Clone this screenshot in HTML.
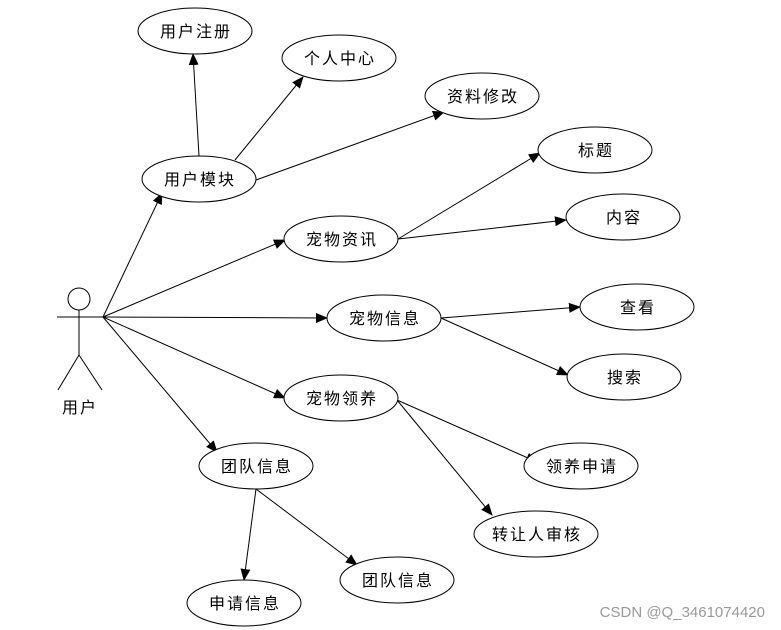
<!DOCTYPE html>
<html><head><meta charset="utf-8"><style>
html,body{margin:0;padding:0;background:#fff;}
svg{display:block;}
text{font-family:"Liberation Sans","Noto Sans CJK SC",sans-serif;font-size:16px;fill:#000;}
</style></head><body>
<svg width="781" height="630" viewBox="0 0 781 630" xmlns="http://www.w3.org/2000/svg">
<defs><marker id="a" markerWidth="12" markerHeight="10" refX="11" refY="5" orient="auto" markerUnits="userSpaceOnUse"><path d="M0,0 L12,5 L0,10 z" fill="#000"/></marker></defs>
<g stroke="#000" stroke-width="1" fill="none">
<circle cx="79" cy="299" r="11"/>
<line x1="79" y1="310" x2="79" y2="355"/>
<line x1="57" y1="317" x2="103" y2="317"/>
<line x1="79" y1="355" x2="58" y2="390"/>
<line x1="79" y1="355" x2="102" y2="390"/>
</g>
<g stroke="#000" stroke-width="1" marker-end="url(#a)">
<line x1="103" y1="317" x2="162" y2="193"/>
<line x1="103" y1="317" x2="285" y2="240"/>
<line x1="103" y1="317" x2="327" y2="318"/>
<line x1="103" y1="317" x2="285" y2="398"/>
<line x1="103" y1="317" x2="217" y2="452"/>
<line x1="199" y1="156" x2="193" y2="54"/>
<line x1="235" y1="160" x2="303" y2="77"/>
<line x1="256" y1="180" x2="444" y2="112"/>
<line x1="398" y1="239" x2="540" y2="153"/>
<line x1="398" y1="239" x2="566" y2="220"/>
<line x1="441" y1="318" x2="580" y2="307"/>
<line x1="441" y1="318" x2="568" y2="375"/>
<line x1="397" y1="400" x2="537" y2="462"/>
<line x1="397" y1="400" x2="492" y2="515"/>
<line x1="256" y1="489" x2="244" y2="580"/>
<line x1="256" y1="489" x2="357" y2="565"/>
</g>
<g stroke="#000" stroke-width="1" fill="#fff">
<ellipse cx="195" cy="31" rx="57" ry="23"/>
<ellipse cx="339" cy="58" rx="57" ry="23"/>
<ellipse cx="482" cy="96" rx="57" ry="23"/>
<ellipse cx="199" cy="179" rx="57" ry="23"/>
<ellipse cx="595" cy="150" rx="57" ry="23"/>
<ellipse cx="341" cy="239" rx="57" ry="23"/>
<ellipse cx="623" cy="217" rx="57" ry="23"/>
<ellipse cx="384" cy="318" rx="57" ry="23"/>
<ellipse cx="637" cy="307" rx="57" ry="23"/>
<ellipse cx="624" cy="377" rx="57" ry="23"/>
<ellipse cx="341" cy="398" rx="57" ry="23"/>
<ellipse cx="581" cy="466" rx="57" ry="23"/>
<ellipse cx="256" cy="466" rx="57" ry="23"/>
<ellipse cx="536" cy="534" rx="62" ry="23"/>
<ellipse cx="397" cy="580" rx="57" ry="23"/>
<ellipse cx="244" cy="603" rx="57" ry="23"/>
</g>
<g text-anchor="middle" letter-spacing="2">
<text x="196" y="37">用户注册</text>
<text x="340" y="64">个人中心</text>
<text x="483" y="102">资料修改</text>
<text x="200" y="185">用户模块</text>
<text x="596" y="156">标题</text>
<text x="342" y="245">宠物资讯</text>
<text x="624" y="223">内容</text>
<text x="385" y="324">宠物信息</text>
<text x="638" y="313">查看</text>
<text x="625" y="383">搜索</text>
<text x="342" y="404">宠物领养</text>
<text x="582" y="472">领养申请</text>
<text x="257" y="472">团队信息</text>
<text x="537" y="540">转让人审核</text>
<text x="398" y="586">团队信息</text>
<text x="245" y="609">申请信息</text>
<text x="80" y="413">用户</text>
</g>
<text x="765" y="617" text-anchor="end" style="font-size:15px;fill:#999">CSDN @Q_3461074420</text>
</svg>
</body></html>
